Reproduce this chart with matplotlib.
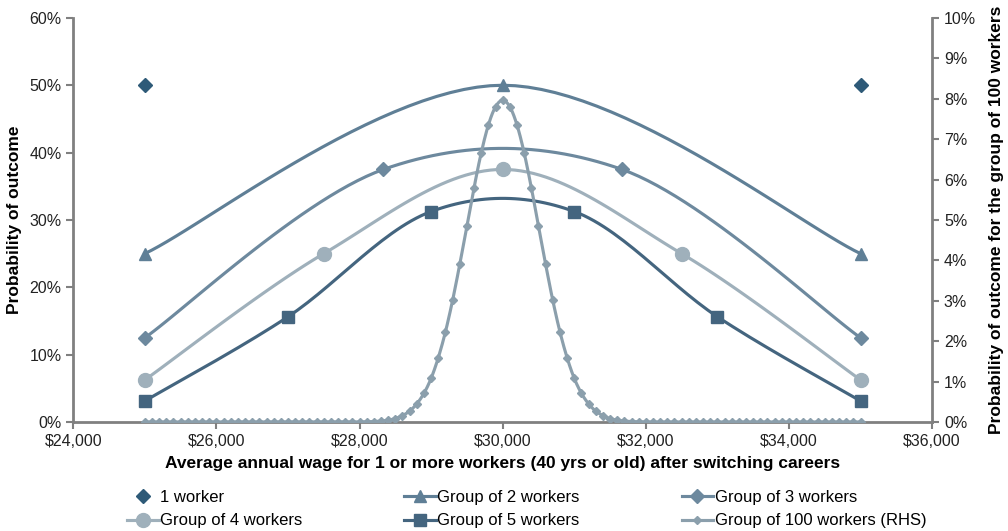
import numpy as np
import matplotlib.pyplot as plt
from matplotlib.ticker import FuncFormatter, PercentFormatter

plt.rcParams['font.family'] = ['Liberation Sans', 'DejaVu Sans']

# Data (probabilities in %)
wage_1 = [25000, 35000]
prob_1 = [50.0, 50.0]

wage_2 = [25000, 30000, 35000]
prob_2 = [25.0, 50.0, 25.0]

wage_3 = [25000, 28333, 31667, 35000]
prob_3 = [12.5, 37.5, 37.5, 12.5]

wage_4 = [25000, 27500, 30000, 32500, 35000]
prob_4 = [6.25, 25.0, 37.5, 25.0, 6.25]

wage_5 = [25000, 27000, 29000, 31000, 33000, 35000]
prob_5 = [3.125, 15.625, 31.25, 31.25, 15.625, 3.125]

wage_100 = list(range(25000, 35001, 100))
prob_100_half = [0.0] * 30 + [
    0.00002, 0.00005, 0.00011, 0.00023, 0.00045, 0.00086, 0.0016, 0.0027,
    0.0045, 0.0071, 0.0108, 0.0159, 0.0223, 0.0301, 0.0390, 0.0485,
    0.0580, 0.0666, 0.0735, 0.0780]
prob_100_peak = [0.0796]
prob_100 = [p * 100 for p in prob_100_half + prob_100_peak + prob_100_half[::-1]]

names = ['1 worker', 'Group of 2 workers', 'Group of 3 workers',
         'Group of 4 workers', 'Group of 5 workers', 'Group of 100 workers (RHS)']
colors = ['#2e5a78', '#5f7f96', '#6d899e', '#9fb0bb', '#44657f', '#8b9fac']


def smooth(x, y, n=30):
    # Excel-like smoothed line (cubic bezier, catmull-rom style control points)
    x = np.asarray(x, float)
    y = np.asarray(y, float)
    px = np.concatenate([[x[0]], x, [x[-1]]])
    py = np.concatenate([[y[0]], y, [y[-1]]])
    xs, ys = [], []
    t = np.linspace(0, 1, n)
    for i in range(1, len(px) - 2):
        p0 = np.array([px[i], py[i]])
        p3 = np.array([px[i + 1], py[i + 1]])
        c1 = p0 + (np.array([px[i + 1], py[i + 1]]) - np.array([px[i - 1], py[i - 1]])) / 6
        c2 = p3 - (np.array([px[i + 2], py[i + 2]]) - np.array([px[i], py[i]])) / 6
        b = ((1 - t) ** 3)[:, None] * p0 + (3 * (1 - t) ** 2 * t)[:, None] * c1 \
            + (3 * (1 - t) * t ** 2)[:, None] * c2 + (t ** 3)[:, None] * p3
        xs.append(b[:, 0])
        ys.append(b[:, 1])
    return np.concatenate(xs), np.concatenate(ys)


fig = plt.figure(figsize=(10.08, 5.31), dpi=100)
ax = fig.add_axes([0.0727, 0.2053, 0.852, 0.761])
ax2 = ax.twinx()

lw = 2.25
handles = []
h1, = ax.plot(wage_1, prob_1, linestyle='none', marker='D', markersize=7,
              color=colors[0], label=names[0])
handles.append(h1)

series = [(wage_2, prob_2, '^', 9), (wage_3, prob_3, 'D', 7),
          (wage_4, prob_4, 'o', 10), (wage_5, prob_5, 's', 9)]
for k, (wx, wy, mk, ms) in enumerate(series):
    c = colors[k + 1]
    sx, sy = smooth(wx, wy)
    ax.plot(sx, sy, color=c, linewidth=lw, zorder=3)
    ax.plot(wx, wy, linestyle='none', marker=mk, markersize=ms, color=c, zorder=4)
    h, = ax.plot([], [], color=c, linewidth=lw, marker=mk, markersize=ms,
                 label=names[k + 1])
    handles.append(h)

sx, sy = smooth(wage_100, prob_100, n=10)
ax2.plot(sx, sy, color=colors[5], linewidth=lw, zorder=3)
ax2.plot(wage_100, prob_100, linestyle='none', marker='D', markersize=4,
         color=colors[5], zorder=4)
h, = ax2.plot([], [], color=colors[5], linewidth=lw, marker='D', markersize=4,
              label=names[5])
handles.append(h)

ax.set_xlim(24000, 36000)
ax.set_ylim(0, 60)
ax2.set_ylim(0, 10)
ax.set_xticks(range(24000, 36001, 2000))
ax.xaxis.set_major_formatter(FuncFormatter(lambda v, p: f'${v:,.0f}'))
ax.set_yticks(range(0, 61, 10))
ax.yaxis.set_major_formatter(PercentFormatter(decimals=0))
ax2.set_yticks(range(0, 11, 1))
ax2.yaxis.set_major_formatter(PercentFormatter(decimals=0))

for a in (ax, ax2):
    for s in a.spines.values():
        s.set_visible(False)
    a.tick_params(labelsize=11.5, colors='#808080', labelcolor='#222222', length=5, width=1.5)
ax.spines['left'].set_visible(True)
ax.spines['bottom'].set_visible(True)
ax2.spines['right'].set_visible(True)
for s in (ax.spines['left'], ax.spines['bottom'], ax2.spines['right']):
    s.set_color('#808080')
    s.set_linewidth(2)
ax.tick_params(axis='x', pad=4)

ax.set_xlabel('Average annual wage for 1 or more workers (40 yrs or old) after switching careers',
              fontsize=12.5, fontweight='heavy', labelpad=5)
ax.set_ylabel('Probability of outcome', fontsize=12.5, fontweight='heavy', labelpad=5)
ax2.set_ylabel('Probability of outcome for the group of 100 workers', fontsize=12.5,
               fontweight='heavy', labelpad=9)

order = [0, 3, 1, 4, 2, 5]
fig.legend([handles[i] for i in order], [names[i] for i in order], ncol=3,
           loc='upper left', bbox_to_anchor=(0.111, 0.106), frameon=False,
           fontsize=12, handlelength=1.9, handletextpad=0.1, columnspacing=6.1,
           labelspacing=0.52)

fig.savefig('out.png', dpi=100)
